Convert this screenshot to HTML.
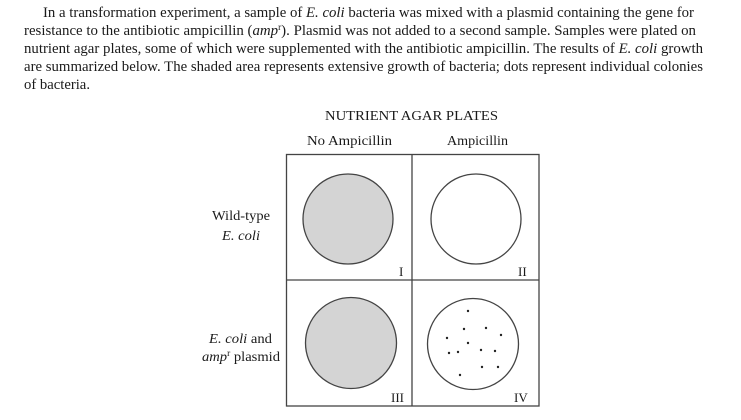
<!DOCTYPE html>
<html><head><meta charset="utf-8"><style>
html,body{margin:0;padding:0;background:#fff;}
svg{display:block;}
text{font-family:"Liberation Serif",serif;fill:#1a1a1a;}
</style></head><body>
<svg width="741" height="420" viewBox="0 0 741 420" xmlns="http://www.w3.org/2000/svg">
<g font-size="14.5">
<text x="43" y="17" textLength="651" lengthAdjust="spacingAndGlyphs">In a transformation experiment, a sample of <tspan font-style="italic">E. coli</tspan> bacteria was mixed with a plasmid containing the gene for</text>
<text x="24" y="35" textLength="672" lengthAdjust="spacingAndGlyphs">resistance to the antibiotic ampicillin (<tspan font-style="italic">amp</tspan><tspan font-size="9" dy="-5">r</tspan><tspan dy="5">). Plasmid was not added to a second sample. Samples were plated on</tspan></text>
<text x="24" y="53" textLength="679" lengthAdjust="spacingAndGlyphs">nutrient agar plates, some of which were supplemented with the antibiotic ampicillin. The results of <tspan font-style="italic">E. coli</tspan> growth</text>
<text x="24" y="71" textLength="679" lengthAdjust="spacingAndGlyphs">are summarized below. The shaded area represents extensive growth of bacteria; dots represent individual colonies</text>
<text x="24" y="89" textLength="66" lengthAdjust="spacingAndGlyphs">of bacteria.</text>
</g>
<g font-size="14" fill="#333">
<text x="325" y="120" textLength="173" lengthAdjust="spacingAndGlyphs">NUTRIENT AGAR PLATES</text>
<text x="307" y="145" textLength="85" lengthAdjust="spacingAndGlyphs">No Ampicillin</text>
<text x="447" y="145" textLength="61" lengthAdjust="spacingAndGlyphs">Ampicillin</text>
<text x="212" y="220" textLength="58" lengthAdjust="spacingAndGlyphs">Wild-type</text>
<text x="222" y="240" textLength="38" lengthAdjust="spacingAndGlyphs" font-style="italic">E. coli</text>
<text x="209" y="343" textLength="63" lengthAdjust="spacingAndGlyphs"><tspan font-style="italic">E. coli</tspan> and</text>
<text x="202" y="361" textLength="78" lengthAdjust="spacingAndGlyphs"><tspan font-style="italic">amp</tspan><tspan font-size="9" dy="-5">r</tspan><tspan dy="5"> plasmid</tspan></text>
<text x="399" y="276" font-size="13">I</text>
<text x="518" y="276" font-size="13">II</text>
<text x="391" y="402" font-size="13">III</text>
<text x="514" y="402" font-size="13">IV</text>
</g>
<g stroke="#444" stroke-width="1.3" fill="none">
<rect x="286.5" y="154.5" width="252.5" height="251.5"/>
<line x1="412" y1="154" x2="412" y2="406"/>
<line x1="286" y1="280" x2="539" y2="280"/>
<circle cx="348" cy="219" r="45" fill="#d4d4d4"/>
<circle cx="476" cy="219" r="45"/>
<circle cx="351" cy="343" r="45.5" fill="#d4d4d4"/>
<circle cx="473" cy="344" r="45.5"/>
</g>
<g fill="#222">
<circle cx="468" cy="311" r="1.2"/><circle cx="464" cy="329" r="1.2"/><circle cx="486" cy="328" r="1.2"/>
<circle cx="501" cy="335" r="1.2"/><circle cx="447" cy="338" r="1.2"/><circle cx="468" cy="343" r="1.2"/>
<circle cx="481" cy="350" r="1.2"/><circle cx="495" cy="351" r="1.2"/><circle cx="449" cy="353" r="1.2"/>
<circle cx="458" cy="352" r="1.2"/><circle cx="482" cy="367" r="1.2"/><circle cx="498" cy="367" r="1.2"/>
<circle cx="460" cy="375" r="1.2"/>
</g>
</svg>
</body></html>
